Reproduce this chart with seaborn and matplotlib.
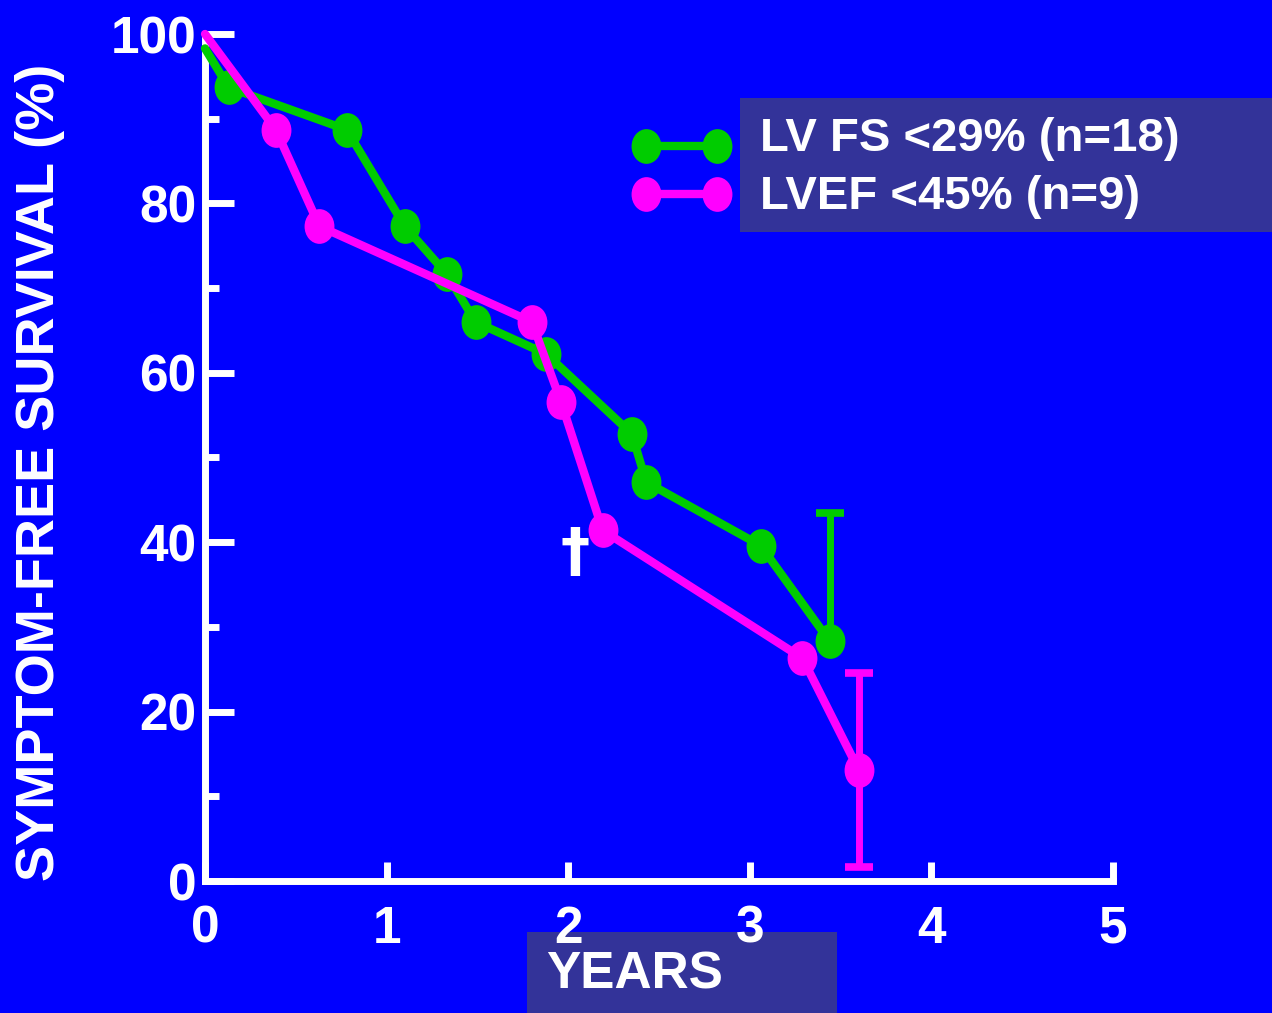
import numpy as np
import matplotlib
matplotlib.use("Agg")
import matplotlib.pyplot as plt
from matplotlib.path import Path
from matplotlib.lines import Line2D
from matplotlib.patches import Rectangle
import seaborn as sns

# LV FS <29% curve (years, % symptom-free)
fs_years = [0, 0.13, 0.78, 1.10, 1.33, 1.49, 1.88, 2.35, 2.43, 3.06, 3.44]
fs_surv = [98.3, 93.7, 88.7, 77.3, 71.7, 66.0, 62.2, 52.8, 47.1, 39.6, 28.3]
fs_err_up = 15.1

# LVEF <45% curve
ef_years = [0, 0.39, 0.63, 1.80, 1.96, 2.19, 3.29, 3.60]
ef_surv = [100, 88.7, 77.3, 66.0, 56.6, 41.4, 26.3, 13.1]
ef_err = 11.4

# death marker
dagger_x, dagger_y = 2.04, 38.7

labels = ["LV FS <29% (n=18)", "LVEF <45% (n=9)"]
colors = ["#00CC00", "#FF00FF"]
x_ticks = [0, 1, 2, 3, 4, 5]
y_major = [0, 20, 40, 60, 80, 100]
y_minor = [10, 30, 50, 70, 90]

BG = "#0000FF"
BOX = "#333399"
W, H = 1272, 1013

sns.set_theme(style="ticks", rc={"axes.facecolor": BG, "figure.facecolor": BG})
plt.rcParams["font.family"] = ["Liberation Sans", "DejaVu Sans"]
plt.rcParams["font.weight"] = "bold"

fig = plt.figure(figsize=(W / 100, H / 100), dpi=100)
ax = fig.add_axes([205 / W, 132 / H, 908 / W, 847 / H])

# slightly squashed circle, like the slide's markers
circ = Path.unit_circle()
ell = Path(circ.vertices * np.array([0.86, 1.0]), circ.codes)

for yrs, surv, c in [(fs_years, fs_surv, colors[0]), (ef_years, ef_surv, colors[1])]:
    sns.lineplot(x=yrs, y=surv, ax=ax, color=c, lw=6, marker=ell, markersize=25,
                 markeredgewidth=0, markevery=list(range(1, len(yrs))),
                 estimator=None, sort=False, clip_on=False, zorder=4)

# error bars at the last point of each curve
ax.errorbar([fs_years[-1]], [fs_surv[-1]], yerr=[[0], [fs_err_up]], fmt="none",
            ecolor=colors[0], elinewidth=5, capsize=10, capthick=5.5, zorder=3)
ax.errorbar([ef_years[-1]], [ef_surv[-1]], yerr=[[ef_err], [ef_err]], fmt="none",
            ecolor=colors[1], elinewidth=5, capsize=10, capthick=5.5, zorder=3)

ax.text(dagger_x, dagger_y, "\u2020", color="white", fontsize=42, ha="center",
        va="center", family=["DejaVu Sans"], fontweight="bold")

ax.set_xlim(0, 5)
ax.set_ylim(0, 100)
for s in ["top", "right"]:
    ax.spines[s].set_visible(False)
for s in ["left", "bottom"]:
    ax.spines[s].set_color("white")
    ax.spines[s].set_linewidth(5)

ax.set_xticks(x_ticks)
ax.set_yticks(y_major)
ax.set_yticks(y_minor, minor=True)
ax.tick_params(axis="y", which="major", direction="in", length=21, width=5,
               color="white", labelcolor="white", labelsize=37, pad=6)
ax.tick_params(axis="y", which="minor", direction="in", length=10, width=5,
               color="white")
ax.tick_params(axis="x", direction="in", length=14, width=5, color="white",
               labelcolor="white", labelsize=37, pad=17)
for t in ax.get_xticklabels() + ax.get_yticklabels():
    t.set_fontweight("bold")

fig.text(40 / W, 1 - 472 / H, "SYMPTOM-FREE SURVIVAL (%)", rotation=90,
         color="white", fontsize=39, fontweight="bold", ha="center", va="center")

# x-axis title on its own dark box (behind the tick labels)
fig.add_artist(Rectangle((527 / W, 0), 310 / W, 81 / H, transform=fig.transFigure,
                         facecolor=BOX, edgecolor="none", zorder=-1))
fig.text(546 / W, 1 - 975 / H, "YEARS", color="white", fontsize=37,
         fontweight="bold", ha="left", va="center")

# legend
fig.add_artist(Rectangle((740 / W, 1 - 232 / H), 532 / W, 134 / H,
                         transform=fig.transFigure, facecolor=BOX, edgecolor="none"))
for i, (lab, c) in enumerate(zip(labels, colors)):
    yy = 1 - (146 + 48 * i) / H
    fig.add_artist(Line2D([646 / W, 717 / W], [yy, yy], transform=fig.transFigure,
                          color=c, lw=6, marker=ell, markersize=25,
                          markeredgewidth=0))
    fig.text(760 / W, 1 - (139 + 58 * i) / H, lab, color="white", fontsize=34,
             fontweight="bold", ha="left", va="center")

fig.savefig("out.png", dpi=100, facecolor=BG)
